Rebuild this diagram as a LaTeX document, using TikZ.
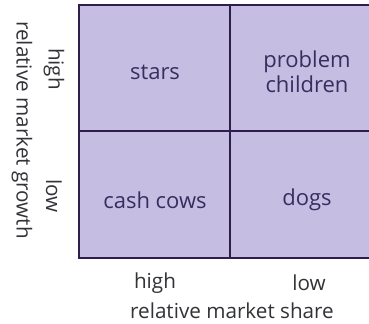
\documentclass[tikz,border=0pt]{standalone}
\usepackage{fontspec}
\setmainfont{Open Sans}
\definecolor{cellfill}{RGB}{198,190,226}
\definecolor{gridline}{RGB}{45,30,75}
\definecolor{celltext}{RGB}{55,45,95}
\definecolor{axistext}{RGB}{50,50,55}
\tikzset{every picture/.style={line width=0.75pt}}
\tikzset{
  celllabel/.style={inner sep=0.75pt, align=center, text=celltext, font=\fontsize{16.5}{19}\selectfont},
  axislabel/.style={inner sep=0.75pt, align=center, text=axistext, font=\fontsize{15.5}{18}\selectfont},
}

\begin{document}
\begin{tikzpicture}[x=0.75pt,y=0.75pt,yscale=-1,xscale=1]
\useasboundingbox (0,0) rectangle (369,324);

%Shape: Rectangle [id:cells]
\fill [cellfill] (79,5) rectangle (369,258);
%Straight Lines [id:frame]
\draw [gridline, line width=1.5]  (369,5) -- (79,5) -- (79,258) -- (369,258) ;
%Straight Lines [id:midh]
\draw [gridline, line width=1.5]  (79,131) -- (369,131) ;
%Straight Lines [id:midv]
\draw [gridline, line width=1.5]  (230,5) -- (230,258) ;

% Text Node
\draw (155,72) node [celllabel] (stars) {stars};
% Text Node
\draw (307,72) node [celllabel] (problem) {problem\\children};
% Text Node
\draw (155,200) node [celllabel] (cows) {cash cows};
% Text Node
\draw (307,200) node [celllabel] (dogs) {dogs};

% Text Node
\draw (155,283) node [axislabel] (sharehigh) {high};
% Text Node
\draw (309,283) node [axislabel] (sharelow) {low};
% Text Node
\draw (232,311) node [axislabel] (share) {relative market share};

% Text Node
\draw (54,69) node [axislabel, rotate=-90] (growthhigh) {high};
% Text Node
\draw (54,196) node [axislabel, rotate=-90] (growthlow) {low};
% Text Node
\draw (22,130) node [axislabel, rotate=-90] (growth) {relative market growth};

\end{tikzpicture}
\end{document}
